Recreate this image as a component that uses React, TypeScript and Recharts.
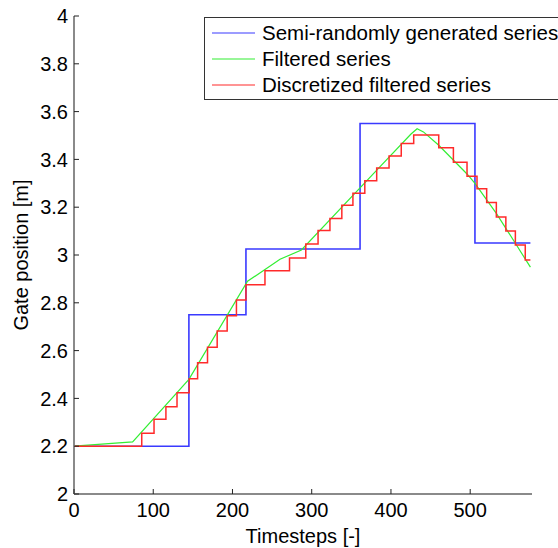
import React from 'react';
import { LineChart, Line, XAxis, YAxis, Legend } from 'recharts';

// Semi-randomly generated series (step function)
const blueX = [0, 145, 217, 361, 506, 576];
const blueY = [2.2, 2.75, 3.025, 3.55, 3.05, 3.05];

// Filtered series
const greenX = [0, 74, 145, 219, 260, 287, 386, 425, 433, 441, 460, 496, 506, 533, 557, 576];
const greenY = [2.2, 2.218, 2.48, 2.89, 2.982, 3.021, 3.369, 3.505, 3.528, 3.515, 3.46, 3.339, 3.3, 3.174, 3.049, 2.949];

// Discretized filtered series (step function)
const redX = [0, 85.5, 101, 116, 130, 145.4, 156, 168.5, 180.7, 193.3, 205, 217, 241, 272, 292.5, 308, 323, 338, 352, 367, 382, 397.6, 413, 428.7, 460.3, 478.8, 496, 508.6, 520.8, 533, 545, 557, 569.5, 576];
const redY = [2.2, 2.254, 2.3125, 2.365, 2.424, 2.482, 2.549, 2.614, 2.682, 2.746, 2.812, 2.876, 2.934, 2.987, 3.046, 3.102, 3.153, 3.208, 3.258, 3.311, 3.364, 3.414, 3.467, 3.502, 3.449, 3.388, 3.329, 3.277, 3.22, 3.159, 3.1, 3.042, 2.979, 2.979];

const xTicks = [0, 100, 200, 300, 400, 500];
const yTicks = [2, 2.2, 2.4, 2.6, 2.8, 3, 3.2, 3.4, 3.6, 3.8, 4];

const seriesNames = ['Semi-randomly generated series', 'Filtered series', 'Discretized filtered series'];
const seriesColors = ['#3a3aff', '#33ee33', '#ff2a2a'];

const toData = (xs: number[], ys: number[]) => xs.map((x, i) => ({ x, v: ys[i] }));
const blueData = toData(blueX, blueY);
const greenData = toData(greenX, greenY);
const redData = toData(redX, redY);

const FONT = '"Liberation Sans", Arial, Helvetica, sans-serif';
const X_MARGIN = 9;
const Y_MARGIN = 6;
const TICK_LEN = 5;

const XTick = (props: any) => {
  const { x, y, payload } = props;
  const axisY = y - X_MARGIN;
  return (
    <g>
      <line x1={x} x2={x} y1={axisY} y2={axisY - TICK_LEN} stroke="#222" strokeWidth={1} />
      <text x={x} y={y} dy="0.72em" textAnchor="middle" fontSize={20} fontFamily={FONT} fill="#000">
        {String(payload.value)}
      </text>
    </g>
  );
};

const YTick = (props: any) => {
  const { x, y, payload } = props;
  const axisX = x + Y_MARGIN;
  return (
    <g>
      <line x1={axisX} x2={axisX + TICK_LEN} y1={y} y2={y} stroke="#222" strokeWidth={1} />
      <text x={x} y={y} dy="0.36em" textAnchor="end" fontSize={20} fontFamily={FONT} fill="#000">
        {String(payload.value)}
      </text>
    </g>
  );
};

const LegendBox = () => (
  <div
    style={{
      width: 360,
      height: 83,
      border: '1px solid #333',
      background: '#fff',
      boxSizing: 'border-box',
      paddingTop: 2,
      fontFamily: FONT,
      fontSize: 20.5,
      color: '#000',
    }}
  >
    {seriesNames.map((n, i) => (
      <div key={n} style={{ height: 26, display: 'flex', alignItems: 'center', whiteSpace: 'nowrap' }}>
        <svg width={57} height={26} style={{ flex: 'none' }}>
          <line x1={7} x2={50} y1={13} y2={13} stroke={seriesColors[i]} strokeWidth={1.2} />
        </svg>
        <span>{n}</span>
      </div>
    ))}
  </div>
);

export default function App() {
  return (
    <div style={{ position: 'absolute', left: 0, top: 0, width: 558, height: 548, overflow: 'hidden', background: '#fff' }}>
      <LineChart width={558} height={548} margin={{ top: 16, right: 26, left: 0, bottom: 0 }}>
        <XAxis
          dataKey="x"
          type="number"
          domain={[0, 578]}
          ticks={xTicks}
          allowDataOverflow
          height={54}
          axisLine={{ stroke: '#8a8a8a', strokeWidth: 2 }}
          tickLine={false}
          tickSize={0}
          tickMargin={X_MARGIN}
          tick={<XTick />}
          interval={0}
          label={{ value: 'Timesteps [-]', position: 'insideBottom', offset: 5, fontSize: 20, fontFamily: FONT, fill: '#000' }}
        />
        <YAxis
          type="number"
          domain={[2, 4]}
          ticks={yTicks}
          allowDataOverflow
          width={74}
          axisLine={{ stroke: '#8a8a8a', strokeWidth: 2 }}
          tickLine={false}
          tickSize={0}
          tickMargin={Y_MARGIN}
          tick={<YTick />}
          interval={0}
          label={{ value: 'Gate position [m]', angle: -90, position: 'insideLeft', offset: 21, fontSize: 20, fontFamily: FONT, fill: '#000', style: { textAnchor: 'middle' } }}
        />
        <Legend
          layout="vertical"
          align="center"
          verticalAlign="middle"
          content={<LegendBox />}
          wrapperStyle={{ left: 204, top: 17, width: 360, height: 83 }}
        />
        <Line data={blueData} dataKey="v" type="stepAfter" stroke={seriesColors[0]} strokeWidth={1.6} dot={false} isAnimationActive={false} name={seriesNames[0]} />
        <Line data={greenData} dataKey="v" type="linear" stroke={seriesColors[1]} strokeWidth={1.2} dot={false} isAnimationActive={false} name={seriesNames[1]} />
        <Line data={redData} dataKey="v" type="stepAfter" stroke={seriesColors[2]} strokeWidth={1.5} dot={false} isAnimationActive={false} name={seriesNames[2]} />
      </LineChart>
    </div>
  );
}
